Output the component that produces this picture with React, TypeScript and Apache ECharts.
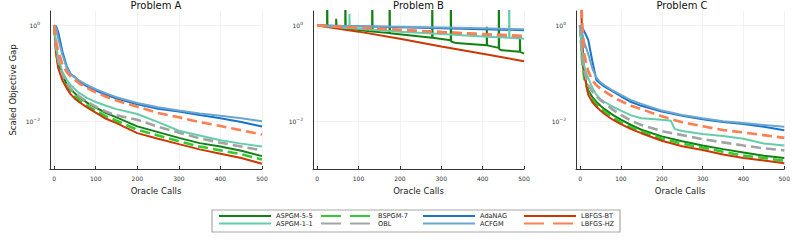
import React, { useEffect, useRef } from 'react';
import * as echarts from 'echarts';

// ---------- data ----------
const CALLS = [0, 5, 10, 20, 30, 40, 50, 60, 80, 100, 125, 150, 200, 250, 300, 350, 400, 450, 500];
const CALLS_B = [0, 100, 200, 300, 400, 500];

// Problem A
const A_ASPGM55 = [1, 0.316, 0.166, 0.0891, 0.0603, 0.0457, 0.038, 0.0316, 0.024, 0.0191, 0.0148, 0.012, 0.00776, 0.00589, 0.00447, 0.00347, 0.00295, 0.0024, 0.00186];
const A_BSPGM7 = [1, 0.282, 0.151, 0.0794, 0.0537, 0.0398, 0.0331, 0.0275, 0.0209, 0.0166, 0.0126, 0.0102, 0.0066, 0.005, 0.0038, 0.00295, 0.00245, 0.00204, 0.00158];
const A_ADANAG = [1, 0.955, 0.708, 0.282, 0.141, 0.0955, 0.0832, 0.0676, 0.0525, 0.0437, 0.0355, 0.0295, 0.0224, 0.0182, 0.0158, 0.0135, 0.0115, 0.00955, 0.00776];
const A_LBFGSBT = [1, 0.24, 0.126, 0.0708, 0.049, 0.0363, 0.0295, 0.0251, 0.0191, 0.0151, 0.0112, 0.00912, 0.00562, 0.00427, 0.00331, 0.00257, 0.00209, 0.0017, 0.00129];
const A_ASPGM11 = [1, 0.355, 0.2, 0.107, 0.0741, 0.0562, 0.0468, 0.0389, 0.0302, 0.0251, 0.0209, 0.0178, 0.0141, 0.00955, 0.00631, 0.00501, 0.00398, 0.00339, 0.00295];
const A_OBL = [1, 0.316, 0.178, 0.0933, 0.0631, 0.0479, 0.0389, 0.0331, 0.0251, 0.02, 0.0158, 0.0132, 0.0107, 0.00759, 0.00575, 0.00437, 0.00355, 0.00295, 0.00245];
const A_ACFGM = [1, 0.891, 0.525, 0.24, 0.132, 0.0933, 0.0813, 0.0708, 0.0562, 0.0468, 0.038, 0.0316, 0.024, 0.0195, 0.0166, 0.0145, 0.0129, 0.0115, 0.01];
const A_LBFGSHZ = [1, 0.447, 0.282, 0.151, 0.107, 0.0851, 0.0724, 0.0617, 0.049, 0.0398, 0.0324, 0.0269, 0.02, 0.0148, 0.012, 0.00955, 0.00794, 0.00646, 0.00525];

// Problem B
const B_ADANAG = [1, 0.955, 0.912, 0.871, 0.832, 0.794];
const B_ACFGM = [1, 0.966, 0.933, 0.902, 0.871, 0.832];
const B_LBFGSHZ = [1, 0.902, 0.813, 0.724, 0.661, 0.603];
const B_BSPGM7 = [1, 0.891, 0.794, 0.708, 0.631, 0.55];
const B_OBL = [1, 0.891, 0.794, 0.724, 0.646, 0.562];
const B_LBFGSBT = [1, 0.741, 0.525, 0.363, 0.257, 0.178];
const B_ASPGM11_X = [0, 78, 78, 79, 200, 300, 400, 464, 464, 465, 500];
const B_ASPGM11 = [1, 0.871, 1.74, 0.871, 0.741, 0.661, 0.589, 0.55, 10, 0.55, 0.525];
const B_ASPGM55_X = [0, 24, 24, 25, 46, 46, 47, 68, 68, 69, 133, 133, 134, 175, 175, 176, 278, 278, 279, 323, 323, 324, 336, 410, 410, 411, 439, 439, 440, 446, 490, 490, 491, 500];
const B_ASPGM55 = [1, 0.965, 10, 0.96, 0.93, 1.38, 0.925, 0.87, 10, 0.865, 0.75, 10, 0.748, 0.69, 10, 0.688, 0.555, 10, 0.553, 0.49, 10, 0.46, 0.427, 0.385, 0.933, 0.383, 0.339, 10, 0.32, 0.302, 0.282, 0.575, 0.28, 0.257];

// Problem C
const C_ASPGM55 = [1, 0.2, 0.0891, 0.0447, 0.0316, 0.0251, 0.0209, 0.0178, 0.0135, 0.0107, 0.0083, 0.0066, 0.0048, 0.0038, 0.0031, 0.0026, 0.0022, 0.0019, 0.0017];
const C_BSPGM7 = [1, 0.178, 0.0794, 0.0398, 0.0282, 0.0224, 0.0186, 0.0158, 0.012, 0.0095, 0.0074, 0.0061, 0.0043, 0.0034, 0.0028, 0.0023, 0.0019, 0.0017, 0.00148];
const C_ADANAG = [1, 0.912, 0.759, 0.5, 0.178, 0.0724, 0.0603, 0.0525, 0.0417, 0.0331, 0.0251, 0.0209, 0.0158, 0.0129, 0.011, 0.00955, 0.0087, 0.0076, 0.00646];
const C_LBFGSBT = [20, 0.6, 0.1, 0.0355, 0.0251, 0.02, 0.0166, 0.0141, 0.0107, 0.0087, 0.0068, 0.0056, 0.0039, 0.003, 0.0025, 0.002, 0.0017, 0.0015, 0.00132];
const C_ASPGM11_X = [0, 5, 10, 20, 30, 40, 50, 60, 80, 100, 125, 150, 200, 222, 232, 250, 300, 350, 400, 450, 500];
const C_ASPGM11 = [1, 0.282, 0.141, 0.0794, 0.0501, 0.0355, 0.0288, 0.0251, 0.02, 0.0166, 0.0132, 0.0115, 0.0107, 0.0102, 0.0068, 0.0062, 0.0054, 0.0049, 0.0043, 0.0034, 0.0031];
const C_OBL = [1, 0.224, 0.112, 0.0562, 0.0417, 0.0331, 0.0275, 0.024, 0.0174, 0.0135, 0.0102, 0.0083, 0.0062, 0.0051, 0.0042, 0.0036, 0.0031, 0.0027, 0.00245];
const C_ACFGM = [1, 0.708, 0.447, 0.251, 0.126, 0.0813, 0.0646, 0.0562, 0.0437, 0.0355, 0.0275, 0.0229, 0.0166, 0.0135, 0.0115, 0.01, 0.00912, 0.00832, 0.00759];
const C_LBFGSHZ = [20, 1.26, 0.251, 0.112, 0.0708, 0.0562, 0.0479, 0.0417, 0.0324, 0.0263, 0.0209, 0.0178, 0.0126, 0.0095, 0.0078, 0.0065, 0.0058, 0.0051, 0.00447];

const TITLES = ['Problem A', 'Problem B', 'Problem C'];
const METHODS = ['ASPGM-5-5', 'BSPGM-7', 'AdaNAG', 'LBFGS-BT', 'ASPGM-1-1', 'OBL', 'ACFGM', 'LBFGS-HZ'];

const PANELS: Record<string, [number[], number[]]>[] = [
  {
    'ASPGM-5-5': [CALLS, A_ASPGM55], 'BSPGM-7': [CALLS, A_BSPGM7], 'AdaNAG': [CALLS, A_ADANAG], 'LBFGS-BT': [CALLS, A_LBFGSBT],
    'ASPGM-1-1': [CALLS, A_ASPGM11], 'OBL': [CALLS, A_OBL], 'ACFGM': [CALLS, A_ACFGM], 'LBFGS-HZ': [CALLS, A_LBFGSHZ],
  },
  {
    'ASPGM-5-5': [B_ASPGM55_X, B_ASPGM55], 'BSPGM-7': [CALLS_B, B_BSPGM7], 'AdaNAG': [CALLS_B, B_ADANAG], 'LBFGS-BT': [CALLS_B, B_LBFGSBT],
    'ASPGM-1-1': [B_ASPGM11_X, B_ASPGM11], 'OBL': [CALLS_B, B_OBL], 'ACFGM': [CALLS_B, B_ACFGM], 'LBFGS-HZ': [CALLS_B, B_LBFGSHZ],
  },
  {
    'ASPGM-5-5': [CALLS, C_ASPGM55], 'BSPGM-7': [CALLS, C_BSPGM7], 'AdaNAG': [CALLS, C_ADANAG], 'LBFGS-BT': [CALLS, C_LBFGSBT],
    'ASPGM-1-1': [C_ASPGM11_X, C_ASPGM11], 'OBL': [CALLS, C_OBL], 'ACFGM': [CALLS, C_ACFGM], 'LBFGS-HZ': [CALLS, C_LBFGSHZ],
  },
];

// ---------- styles ----------
const FONT = 'DejaVu Sans';
const STYLE: Record<string, { color: string; dashed: boolean }> = {
  'ASPGM-5-5': { color: '#138013', dashed: false },
  'ASPGM-1-1': { color: '#66cdaa', dashed: false },
  'BSPGM-7': { color: '#2ecc2e', dashed: true },
  'OBL': { color: '#a3a3a3', dashed: true },
  'AdaNAG': { color: '#1874cd', dashed: false },
  'ACFGM': { color: '#6ca6cd', dashed: false },
  'LBFGS-BT': { color: '#cd3700', dashed: false },
  'LBFGS-HZ': { color: '#ff7f50', dashed: true },
};
const GRIDS = [
  { left: 50, top: 11, width: 212, height: 158 },
  { left: 313, top: 11, width: 211, height: 158 },
  { left: 576, top: 11, width: 212, height: 158 },
];
const LEGEND_POS: Record<string, [number, number]> = {
  'ASPGM-5-5': [218, 212.5], 'ASPGM-1-1': [218, 220],
  'BSPGM-7': [320, 212.5], 'OBL': [320, 220],
  'AdaNAG': [422, 212.5], 'ACFGM': [422, 220],
  'LBFGS-BT': [523, 212.5], 'LBFGS-HZ': [523, 220],
};

function zip(xs: number[], ys: number[]) {
  return xs.map((x, i) => [x, ys[i]]);
}

function yLabel(v: number) {
  const e = Math.log10(v);
  const r = Math.round(e);
  if (Math.abs(e - r) > 1e-6 || (r !== 0 && r !== -2)) return '';
  return '{b|10}{s|' + (r === 0 ? '0' : '\u22122') + '}';
}

function buildOption() {
  const series: any[] = [];
  PANELS.forEach((panel, p) => {
    METHODS.forEach((m) => {
      const [xs, ys] = panel[m];
      const st = STYLE[m];
      series.push({
        type: 'line',
        name: m,
        xAxisIndex: p,
        yAxisIndex: p,
        data: zip(xs, ys),
        symbol: 'none',
        showSymbol: false,
        clip: true,
        silent: true,
        itemStyle: { color: st.color },
        lineStyle: { color: st.color, width: st.dashed ? 2.6 : 2, type: st.dashed ? [10, 5] : 'solid' },
        emphasis: { disabled: true },
      });
    });
  });

  const xAxis = GRIDS.map((_, p) => ({
    type: 'value',
    gridIndex: p,
    min: -10,
    max: 500,
    splitNumber: 5,
    name: 'Oracle Calls',
    nameLocation: 'middle',
    nameGap: 17,
    nameTextStyle: { fontFamily: FONT, fontSize: 8.5, color: '#222' },
    axisLine: { show: true, onZero: false, lineStyle: { color: '#333', width: 1 } },
    axisTick: { show: true, inside: true, length: 3, lineStyle: { color: '#333' } },
    axisLabel: {
      fontFamily: FONT, fontSize: 6, color: '#333', margin: 6,
      formatter: (v: number) => (v < 0 ? '' : String(Math.round(v))),
    },
    splitLine: { show: true, lineStyle: { color: '#ececec', width: 0.7 } },
  }));

  const yAxis = GRIDS.map((_, p) => ({
    type: 'log',
    logBase: 10,
    gridIndex: p,
    min: 0.001,
    max: 2,
    name: p === 0 ? 'Scaled Objective Gap' : '',
    nameLocation: 'middle',
    nameRotate: 90,
    nameGap: 33,
    nameTextStyle: { fontFamily: FONT, fontSize: 8.5, color: '#222' },
    axisLine: { show: true, onZero: false, lineStyle: { color: '#333', width: 1 } },
    axisTick: { show: false },
    axisLabel: {
      margin: 10,
      formatter: yLabel,
      rich: {
        b: { fontFamily: FONT, fontSize: 6, color: '#333' },
        s: { fontFamily: FONT, fontSize: 4.5, color: '#333', padding: [0, 0, 4, 0] },
      },
    },
    splitLine: { show: true, lineStyle: { color: ['rgba(0,0,0,0)', '#ececec'], width: 0.7 } },
  }));

  const title = TITLES.map((t, p) => ({
    text: t,
    left: GRIDS[p].left + GRIDS[p].width / 2,
    top: 0,
    textAlign: 'center',
    padding: 0,
    textStyle: { fontFamily: FONT, fontSize: 10, fontWeight: 'normal', color: '#111' },
  }));

  const legend = METHODS.map((m) => {
    const st = STYLE[m];
    const [l, t] = LEGEND_POS[m];
    return {
      data: [m],
      left: l,
      top: t,
      padding: 0,
      itemWidth: 52,
      itemHeight: 6,
      selectedMode: false,
      icon: undefined,
      textStyle: { fontFamily: FONT, fontSize: 6.6, color: '#222' },
      lineStyle: st.dashed ? { type: [20, 9], width: 2 } : { width: 2 },
      itemStyle: { opacity: 0 },
    };
  });

  return {
    animation: false,
    backgroundColor: '#fff',
    title,
    grid: GRIDS.map((g) => ({ ...g, containLabel: false })),
    xAxis,
    yAxis,
    legend,
    graphic: [
      {
        type: 'rect',
        shape: { x: 212, y: 210, width: 408, height: 22 },
        style: { fill: '#fff', stroke: '#a8a8a8', lineWidth: 1.2 },
        z: 0,
        silent: true,
      },
    ],
    series,
  };
}

export default function App() {
  const ref = useRef<HTMLDivElement>(null);
  useEffect(() => {
    document.body.style.margin = '0';
    if (!ref.current) return;
    const chart = echarts.init(ref.current, undefined, { renderer: 'svg' });
    chart.setOption(buildOption() as any);
    return () => chart.dispose();
  }, []);
  return <div ref={ref} style={{ width: 793, height: 248 }} />;
}
